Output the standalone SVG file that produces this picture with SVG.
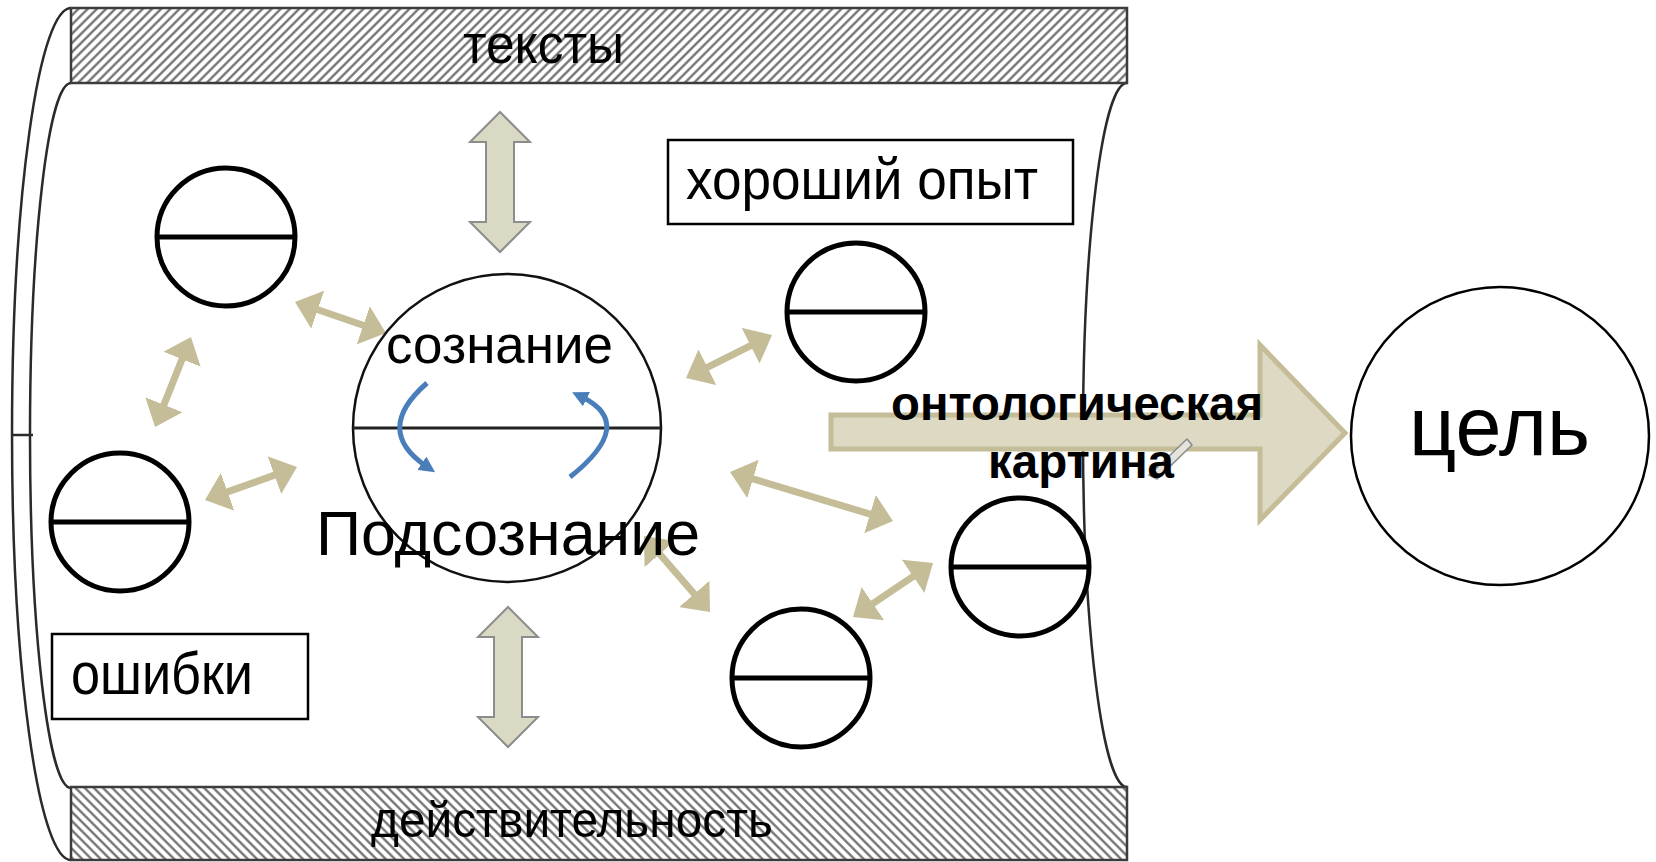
<svg xmlns="http://www.w3.org/2000/svg" width="1656" height="862" viewBox="0 0 1656 862">
<defs>
<style>
.band{stroke:#3c3c3c;stroke-width:2.5}
.tube{fill:none;stroke:#2a2a2a;stroke-width:2.5}
.small circle{fill:#fff;stroke:#000;stroke-width:5}
.small line{stroke:#000;stroke-width:5}
.txt{font-family:"Liberation Sans",Arial,sans-serif;fill:#000}
.bold{font-weight:bold}
.box{fill:#fff;stroke:#000;stroke-width:2.5}
.conn{fill:none;stroke:#c4bd97;stroke-width:7;marker-start:url(#tan);marker-end:url(#tan)}
.blk{fill:#d9d9c4;stroke:#8c8c8c;stroke-width:2}
.blue{fill:none;stroke:#4a7ebb;stroke-width:5;marker-end:url(#bl)}
</style>
<pattern id="hatchUp" width="6.5" height="6.5" patternUnits="userSpaceOnUse" patternTransform="rotate(45)">
<rect width="6.5" height="6.5" fill="#fff"/>
<line x1="3.25" y1="0" x2="3.25" y2="6.5" stroke="#6a6a6a" stroke-width="2.2"/>
</pattern>
<pattern id="hatchDown" width="6.5" height="6.5" patternUnits="userSpaceOnUse" patternTransform="rotate(-45)">
<rect width="6.5" height="6.5" fill="#fff"/>
<line x1="3.25" y1="0" x2="3.25" y2="6.5" stroke="#6a6a6a" stroke-width="2.2"/>
</pattern>
<marker id="tan" viewBox="0 0 24 40" refX="9" refY="20" markerWidth="24" markerHeight="40" markerUnits="userSpaceOnUse" orient="auto-start-reverse">
<path d="M0,0 L24,20 L0,40 Z" fill="#c4bd97"/>
</marker>
<marker id="bl" viewBox="0 0 16 16" refX="5" refY="8" markerWidth="16" markerHeight="16" markerUnits="userSpaceOnUse" orient="auto">
<path d="M0,0 L16,8 L0,16 Z" fill="#4a7ebb"/>
</marker>
</defs>
<rect width="1656" height="862" fill="#fff"/>

<g id="tube">
<path class="tube" d="M71,8 A59,426 0 0 0 71,860"/>
<path class="tube" d="M71,83 A41,352.5 0 0 0 71,788"/>
<path class="tube" d="M1127,83 A44,352 0 0 0 1127,787"/>
<line class="tube" x1="11" y1="435" x2="33" y2="435"/>
</g>

<g id="band-texts">
<rect class="band" x="71" y="8" width="1056" height="75" fill="url(#hatchUp)"/>
<text class="txt" x="463" y="63" font-size="56" textLength="161" lengthAdjust="spacingAndGlyphs">тексты</text>
</g>
<g id="band-reality">
<rect class="band" x="71" y="787" width="1056" height="73" fill="url(#hatchDown)"/>
<text class="txt" x="371" y="837" font-size="50" textLength="402" lengthAdjust="spacingAndGlyphs">действительность</text>
</g>

<g id="onto-arrow">
<polygon points="831,415 1260,415 1260,345 1345,433 1260,520 1260,449 831,449" fill="#ddd9c3" stroke="#c4bd97" stroke-width="5"/>
<path d="M1187,439 L1192,445 L1157,479 L1149,475 Z" fill="#e4e4dc" stroke="#8a8a8a" stroke-width="1.5"/>
</g>

<g id="connectors">
<polygon class="blk" points="500,112 530,142 514,142 514,222 530,222 500,252 470,222 486,222 486,142 470,142"/>
<polygon class="blk" points="508,607 538,637 522,637 522,717 538,717 508,747 478,717 494,717 494,637 478,637"/>
<path class="conn" d="M309.2,306.8 L371.8,328.2"/>
<path class="conn" d="M185.4,350.9 L160.6,413.1"/>
<path class="conn" d="M219.1,494.9 L282.9,472.1"/>
<path class="conn" d="M699.4,371.3 L758.6,341.7"/>
<path class="conn" d="M744.4,476.3 L878.6,516.7"/>
<path class="conn" d="M653.8,547.3 L700.2,600.7"/>
<path class="conn" d="M865.4,608.6 L920.6,571.4"/>
</g>

<g id="mind">
<circle cx="507" cy="428" r="154" fill="none" stroke="#111" stroke-width="2.5"/>
<line x1="353" y1="428" x2="661" y2="428" stroke="#222" stroke-width="3"/>
<path class="blue" d="M427,383 Q373,430 426,466"/>
<path class="blue" d="M570,477 Q637,424 582,397"/>
<text class="txt" x="386" y="363" font-size="53" textLength="227" lengthAdjust="spacingAndGlyphs">сознание</text>
<text class="txt" x="316" y="555" font-size="63" textLength="384" lengthAdjust="spacingAndGlyphs">Подсознание</text>
</g>

<g id="c1" class="small"><circle cx="226" cy="237" r="69"/><line x1="157" y1="237" x2="295" y2="237"/></g>
<g id="c2" class="small"><circle cx="120" cy="522" r="69"/><line x1="51" y1="522" x2="189" y2="522"/></g>
<g id="c3" class="small"><circle cx="856" cy="312" r="69"/><line x1="787" y1="312" x2="925" y2="312"/></g>
<g id="c4" class="small"><circle cx="1020" cy="567" r="69"/><line x1="951" y1="567" x2="1089" y2="567"/></g>
<g id="c5" class="small"><circle cx="801" cy="678" r="69"/><line x1="732" y1="678" x2="870" y2="678"/></g>

<g id="goal">
<circle cx="1500" cy="436" r="149" fill="#fff" stroke="#000" stroke-width="2.5"/>
<text class="txt" x="1409" y="455" font-size="83" textLength="181" lengthAdjust="spacingAndGlyphs">цель</text>
</g>

<g id="good-experience">
<rect class="box" x="668" y="140" width="405" height="84"/>
<text class="txt" x="686" y="199" font-size="57" textLength="352" lengthAdjust="spacingAndGlyphs">хороший опыт</text>
</g>
<g id="errors">
<rect class="box" x="52" y="634" width="256" height="85"/>
<text class="txt" x="71" y="694" font-size="60" textLength="182" lengthAdjust="spacingAndGlyphs">ошибки</text>
</g>

<g id="onto-label">
<text class="txt bold" x="1077" y="420" font-size="48" text-anchor="middle" textLength="372" lengthAdjust="spacingAndGlyphs">онтологическая</text>
<text class="txt bold" x="1081" y="478" font-size="48" text-anchor="middle" textLength="186" lengthAdjust="spacingAndGlyphs">картина</text>
</g>
</svg>
